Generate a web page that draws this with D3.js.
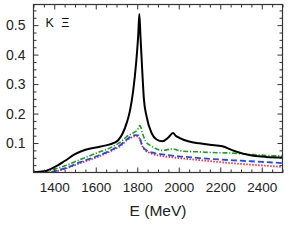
<!DOCTYPE html>
<html><head><meta charset="utf-8">
<script src="https://cdn.jsdelivr.net/npm/d3@7"></script>
<style>
html,body{margin:0;padding:0;background:#fff;}
svg{display:block;font-family:"Liberation Sans",Arial,Helvetica,sans-serif;}
</style></head>
<body>
<svg id="chart" width="291" height="251"></svg>
<script>
// ---- data ----
const energy_black = [1300,1350,1400,1450,1500,1550,1600,1650,1690,1710,1730,1750,1765,1780,1795,1805,1810,1815,1823,1832,1845,1869,1893,1922,1947,1973,1985,2005,2050,2100,2150,2210,2260,2310,2360,2420,2500];
const value_black  = [0.001,0.004,0.018,0.039,0.062,0.077,0.085,0.092,0.101,0.111,0.133,0.170,0.210,0.275,0.375,0.470,0.538,0.470,0.360,0.250,0.190,0.134,0.112,0.106,0.117,0.134,0.125,0.117,0.105,0.099,0.094,0.089,0.075,0.064,0.057,0.053,0.051];

const energy_green = [1300,1350,1380,1445,1525,1605,1685,1720,1749,1780,1800,1813,1825,1840,1870,1920,1973,2000,2050,2100,2150,2250,2350,2450,2500];
const value_green  = [0.000,0.001,0.007,0.021,0.044,0.066,0.089,0.104,0.122,0.134,0.144,0.159,0.134,0.106,0.089,0.075,0.080,0.074,0.071,0.070,0.068,0.066,0.061,0.057,0.056];

const energy_blue = [1300,1380,1445,1525,1605,1685,1720,1749,1770,1790,1805,1812,1820,1835,1870,1930,2000,2050,2100,2200,2300,2400,2500];
const value_blue  = [0.000,0.002,0.013,0.035,0.055,0.080,0.094,0.112,0.122,0.127,0.126,0.118,0.100,0.080,0.068,0.061,0.055,0.052,0.049,0.044,0.040,0.036,0.032];

const energy_red = [1300,1380,1445,1525,1605,1685,1720,1749,1770,1790,1805,1812,1820,1835,1870,1930,2000,2100,2200,2300,2400,2500];
const value_red  = [0.000,0.001,0.011,0.032,0.052,0.077,0.091,0.109,0.118,0.123,0.122,0.113,0.097,0.078,0.064,0.055,0.049,0.042,0.035,0.029,0.024,0.019];

const xTickLabels = [1400,1600,1800,2000,2200,2400];
const yTickLabels = [0.1,0.2,0.3,0.4,0.5];
const panelLabel = "K Ξ";
const xTitle = "E (MeV)";

// ---- layout ----
const svg = d3.select("#chart");
const L = 33.5, R = 282.5, T = 4.5, B = 172.5;
const x = d3.scaleLinear().domain([1300,2500]).range([L,R]);
const y = d3.scaleLinear().domain([0,0.57]).range([B,T]);

svg.append("defs").append("clipPath").attr("id","clip")
  .append("rect").attr("x",L).attr("y",T).attr("width",R-L).attr("height",B-T);

const series = [
  {e:energy_red,   v:value_red,   color:"#ff2b2b", w:1.8, dash:"1.5,1.5"},
  {e:energy_blue,  v:value_blue,  color:"#1f4cf0", w:1.8, dash:"6,3"},
  {e:energy_green, v:value_green, color:"#1b9e1b", w:1.6, dash:"5,1.8,1.2,1.8"},
  {e:energy_black, v:value_black, color:"#000000", w:2.0, dash:null}
];
const line = d3.line().curve(d3.curveMonotoneX);
const g = svg.append("g").attr("clip-path","url(#clip)");
series.forEach(s=>{
  const pts = s.e.map((e,i)=>[x(e), y(s.v[i])]);
  g.append("path").attr("d", line(pts)).attr("fill","none")
    .attr("stroke", s.color).attr("stroke-width", s.w)
    .attr("stroke-dasharray", s.dash);
});

// ---- axes (ticks pointing inward, all four sides) ----
const frameColor = "#333";
const xMinor = d3.range(1300, 2501, 50).filter(v=>!xTickLabels.includes(v));
const yMinor = d3.range(0.025, 0.57, 0.025).filter(v=>!yTickLabels.some(t=>Math.abs(t-v)<1e-6));

function addAxis(axisGen, transform, fs){
  const a = svg.append("g").attr("transform", transform).call(axisGen);
  a.select(".domain").remove();
  a.selectAll("line").attr("stroke", frameColor).attr("stroke-width",1);
  a.selectAll("text").attr("fill","#222").style("font-size",(fs||13)+"px")
   .style("font-family","'Liberation Sans',Arial,sans-serif");
  return a;
}
// bottom
addAxis(d3.axisBottom(x).tickValues(xTickLabels).tickSizeInner(-5).tickSizeOuter(0).tickPadding(10).tickFormat(d3.format("d")), `translate(0,${B})`, 13.5)
  .selectAll("text").attr("dy","0.71em");
addAxis(d3.axisBottom(x).tickValues(xMinor).tickSizeInner(-3).tickSizeOuter(0).tickFormat(""), `translate(0,${B})`);
// top
addAxis(d3.axisTop(x).tickValues(xTickLabels).tickSizeInner(-5).tickSizeOuter(0).tickFormat(""), `translate(0,${T})`);
addAxis(d3.axisTop(x).tickValues(xMinor).tickSizeInner(-3).tickSizeOuter(0).tickFormat(""), `translate(0,${T})`);
// left
addAxis(d3.axisLeft(y).tickValues(yTickLabels).tickSizeInner(-5).tickSizeOuter(0).tickPadding(8).tickFormat(d3.format(".1f")), `translate(${L},0)`, 14);
addAxis(d3.axisLeft(y).tickValues(yMinor).tickSizeInner(-3).tickSizeOuter(0).tickFormat(""), `translate(${L},0)`);
// right
addAxis(d3.axisRight(y).tickValues(yTickLabels).tickSizeInner(-5).tickSizeOuter(0).tickFormat(""), `translate(${R},0)`);
addAxis(d3.axisRight(y).tickValues(yMinor).tickSizeInner(-3).tickSizeOuter(0).tickFormat(""), `translate(${R},0)`);

// frame
svg.append("rect").attr("x",L).attr("y",T).attr("width",R-L).attr("height",B-T)
  .attr("fill","none").attr("stroke",frameColor).attr("stroke-width",1.2);

// labels
svg.append("text").attr("x",45.5).attr("y",27).attr("fill","#111")
  .style("font-size","12.5px").style("word-spacing","4px").text(panelLabel);
svg.append("text").attr("x",158).attr("y",216).attr("text-anchor","middle").attr("fill","#222")
  .style("font-size","15.5px").text(xTitle);
</script>
</body></html>
